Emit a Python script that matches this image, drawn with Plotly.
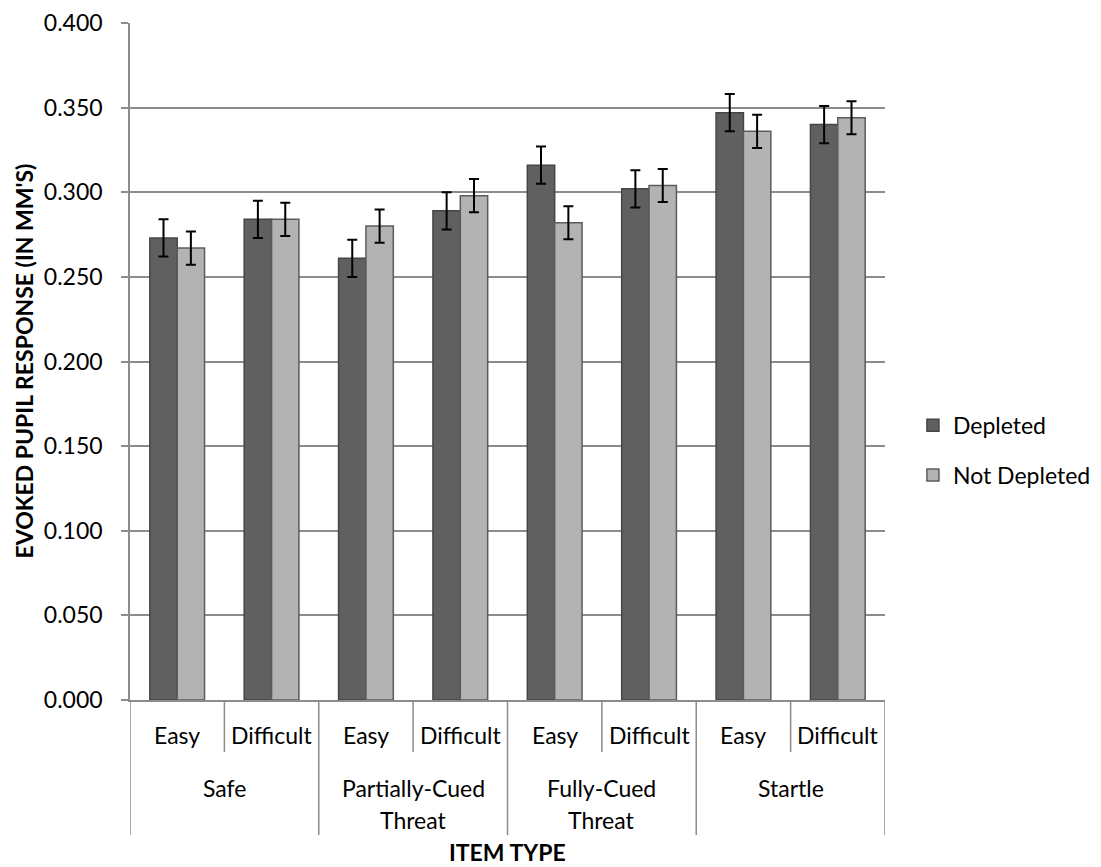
import plotly.graph_objects as go

# Item types (outer level) and difficulty (inner level)
groups = ["Safe", "Partially-Cued Threat", "Fully-Cued Threat", "Startle"]
group_lines = [["Safe"], ["Partially-Cued", "Threat"], ["Fully-Cued", "Threat"], ["Startle"]]
levels = ["Easy", "Difficult"]

# Evoked pupil response (mm) and standard errors
depleted = [0.273, 0.284, 0.261, 0.289, 0.316, 0.302, 0.347, 0.340]
depleted_err = [0.011, 0.011, 0.011, 0.011, 0.011, 0.011, 0.011, 0.011]
not_depleted = [0.267, 0.284, 0.280, 0.298, 0.282, 0.304, 0.336, 0.344]
not_depleted_err = [0.0098, 0.0098, 0.0098, 0.0098, 0.0097, 0.0098, 0.0098, 0.0098]

y_ticks = [0.0, 0.05, 0.10, 0.15, 0.20, 0.25, 0.30, 0.35, 0.40]

FONT = "Lato, Calibri, sans-serif"
FS = 23
GRID = "#8c8c8c"

n = len(groups) * len(levels)
xpos = list(range(n))

fig = go.Figure()
fig.add_trace(go.Bar(
    x=xpos, y=depleted, name="Depleted",
    marker=dict(color="#606060", line=dict(color="#454545", width=1.5)),
    error_y=dict(type="data", array=depleted_err, color="black", thickness=2, width=5),
    legendgroup="a",
))
fig.add_trace(go.Bar(
    x=xpos, y=not_depleted, name="Not Depleted",
    marker=dict(color="#b3b3b3", line=dict(color="#5c5c5c", width=1.5)),
    error_y=dict(type="data", array=not_depleted_err, color="black", thickness=2, width=5),
    legendgroup="b",
))

shapes = []
annotations = []

# Inner dividers (between Easy/Difficult) and outer dividers (between item types)
for g in range(len(groups)):
    inner_x = g * 2 + 0.5
    shapes.append(dict(type="line", xref="x", yref="paper", x0=inner_x, x1=inner_x,
                       y0=0, y1=-0.0768, line=dict(color=GRID, width=1.5)))
for g in range(len(groups) + 1):
    outer_x = g * 2 - 0.5
    shapes.append(dict(type="line", xref="x", yref="paper", x0=outer_x, x1=outer_x,
                       y0=0, y1=-0.1994, line=dict(color=GRID, width=1.5)))

# Category labels
for i in xpos:
    annotations.append(dict(x=i, y=-0.0517, xref="x", yref="paper", text=levels[i % 2],
                            showarrow=False, yanchor="middle", xanchor="center",
                            font=dict(family=FONT, size=FS, color="black")))
line_y = [-0.1300, -0.1772]
for g, lines in enumerate(group_lines):
    for k, line in enumerate(lines):
        annotations.append(dict(x=g * 2 + 0.5, y=line_y[k], xref="x", yref="paper", text=line,
                                showarrow=False, yanchor="middle", xanchor="center",
                                font=dict(family=FONT, size=FS, color="black")))

# Axis titles
annotations.append(dict(x=0.5, y=-0.2245, xref="paper", yref="paper", text="<b>ITEM TYPE</b>",
                        showarrow=False, yanchor="middle", xanchor="center",
                        font=dict(family=FONT, size=FS, color="black")))
annotations.append(dict(x=-0.1417, y=0.5, xref="paper", yref="paper",
                        text="<b>EVOKED PUPIL RESPONSE (IN MM'S)</b>", textangle=-90,
                        showarrow=False, yanchor="middle", xanchor="center",
                        font=dict(family=FONT, size=FS, color="black")))

fig.update_layout(
    width=1101, height=867,
    margin=dict(l=130, r=216, t=23, b=167, autoexpand=False),
    paper_bgcolor="white", plot_bgcolor="white",
    barmode="group", bargap=0.42, bargroupgap=0,
    font=dict(family=FONT, size=FS, color="black"),
    shapes=shapes, annotations=annotations,
    legend=dict(x=1.037, xanchor="left", y=0.369, yanchor="middle",
                traceorder="grouped", tracegroupgap=17,
                font=dict(family=FONT, size=FS, color="black"), bgcolor="rgba(0,0,0,0)"),
    showlegend=True,
)
fig.update_xaxes(range=[-0.5, n - 0.5], showticklabels=False, ticks="", showgrid=False,
                 showline=True, linecolor=GRID, linewidth=1.5, zeroline=False, fixedrange=True)
fig.update_yaxes(range=[0, 0.4], tickvals=y_ticks, tickformat=".3f", ticks="outside",
                 ticklen=7, tickwidth=1.5, tickcolor=GRID, showline=True, linecolor=GRID,
                 linewidth=1.5, showgrid=True, gridcolor=GRID, gridwidth=1.5, zeroline=False,
                 ticklabelstandoff=14, tickfont=dict(family=FONT, size=FS, color="black"))

fig.write_html("out.html")
